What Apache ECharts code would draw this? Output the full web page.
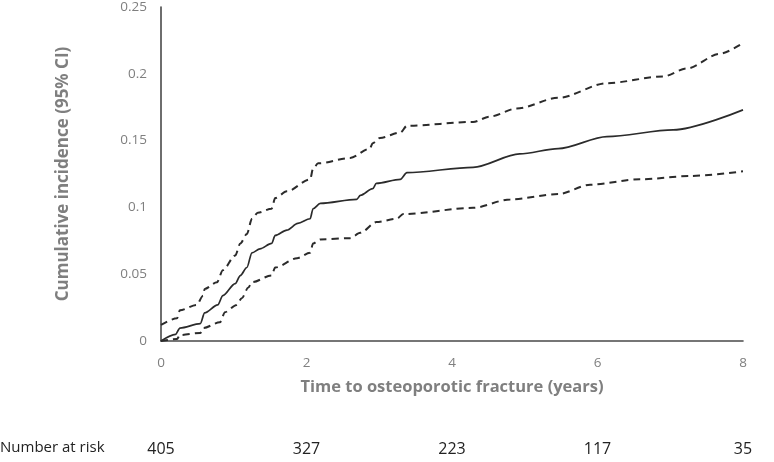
<!DOCTYPE html>
<html>
<head>
<meta charset="utf-8">
<script src="https://cdn.jsdelivr.net/npm/echarts@6/dist/echarts.min.js"></script>
<style>
  html, body { margin: 0; padding: 0; background: #fff; }
  #chart { width: 774px; height: 462px; }
</style>
</head>
<body>
<div id="chart"></div>
<script>
// cumulative incidence (solid)
const ciX = [0, 0.2, 0.26, 0.54, 0.6, 0.78, 0.85, 1.02, 1.09, 1.18, 1.25, 1.36, 1.52, 1.57, 1.73, 1.88, 2.05, 2.09, 2.19, 2.69, 2.74, 2.91, 2.96, 3.29, 3.38, 4.29, 4.93, 5.46, 6.13, 7.04, 8];
const ciY = [0, 0.005, 0.0097, 0.013, 0.021, 0.027, 0.034, 0.043, 0.049, 0.055, 0.066, 0.069, 0.073, 0.079, 0.083, 0.088, 0.0915, 0.099, 0.103, 0.106, 0.109, 0.114, 0.118, 0.121, 0.126, 0.130, 0.140, 0.144, 0.153, 0.158, 0.173];
// upper 95% CI
const upX = [0, 0.22, 0.26, 0.49, 0.58, 0.6, 0.77, 0.85, 1.02, 1.09, 1.18, 1.25, 1.33, 1.52, 1.57, 1.73, 2.05, 2.09, 2.16, 2.6, 2.87, 2.91, 3.01, 3.29, 3.38, 4.29, 4.52, 4.89, 5.46, 6.13, 6.9, 7.23, 7.68, 8];
const upY = [0.012, 0.017, 0.023, 0.027, 0.034, 0.039, 0.044, 0.053, 0.064, 0.073, 0.080, 0.0915, 0.096, 0.099, 0.107, 0.112, 0.121, 0.129, 0.133, 0.137, 0.144, 0.148, 0.152, 0.156, 0.161, 0.164, 0.168, 0.174, 0.182, 0.193, 0.198, 0.204, 0.215, 0.223];
// lower 95% CI
const loX = [0, 0.22, 0.26, 0.54, 0.58, 0.81, 0.88, 1.04, 1.11, 1.2, 1.25, 1.52, 1.57, 1.87, 2.05, 2.09, 2.19, 2.6, 2.74, 2.96, 3.24, 3.33, 4.29, 4.8, 5.46, 5.9, 6.58, 7.27, 8];
const loY = [0, 0.0015, 0.0045, 0.006, 0.0097, 0.014, 0.0216, 0.027, 0.032, 0.040, 0.044, 0.049, 0.055, 0.062, 0.066, 0.073, 0.076, 0.077, 0.081, 0.089, 0.0915, 0.095, 0.0997, 0.106, 0.110, 0.117, 0.121, 0.1235, 0.127];
// number at risk
const riskYears = [0, 2, 4, 6, 8];
const riskCounts = [405, 327, 223, 117, 35];

const zip = (xs, ys) => xs.map((x, i) => [x, ys[i]]);
const lineColor = "#2b2b2b";
const grayText = "#7f7f7f";
const font = "'Open Sans', 'Noto Sans', sans-serif";

const chart = echarts.init(document.getElementById("chart"));

const mkLine = (data, dashed) => ({
  type: "line",
  data: data,
  showSymbol: false,
  smooth: 0.3,
  smoothMonotone: "x",
  lineStyle: {
    color: lineColor,
    width: dashed ? 2 : 1.7,
    type: dashed ? [7, 5] : "solid",
  },
  silent: true,
});

chart.setOption({
  animation: false,
  grid: { left: 161, right: 31, top: 5, bottom: 121 },
  xAxis: [
    {
      type: "value",
      min: 0,
      max: 8,
      interval: 2,
      name: "Time to osteoporotic fracture (years)",
      nameLocation: "middle",
      nameGap: 38,
      nameTextStyle: { color: grayText, fontSize: 16.5, fontWeight: "bold", fontFamily: font },
      axisLine: { lineStyle: { color: "#4a4a4a", width: 1.6 } },
      axisTick: { show: false },
      splitLine: { show: false },
      axisLabel: { color: grayText, fontSize: 13.5, margin: 15, fontFamily: font },
    },
    {
      type: "value",
      min: 0,
      max: 8,
      interval: 2,
      position: "bottom",
      offset: 100,
      axisLine: { show: false },
      axisTick: { show: false },
      splitLine: { show: false },
      axisLabel: {
        color: "#222",
        fontSize: 16,
        margin: 0,
        fontFamily: font,
        formatter: (v) => {
          const i = riskYears.indexOf(v);
          return i >= 0 ? String(riskCounts[i]) : "";
        },
      },
    },
  ],
  yAxis: {
    type: "value",
    min: 0,
    max: 0.25,
    interval: 0.05,
    name: "Cumulative incidence (95% CI)",
    nameLocation: "middle",
    nameGap: 89,
    nameTextStyle: { color: grayText, fontSize: 17, fontWeight: "bold", fontFamily: font },
    axisLine: { show: true, lineStyle: { color: "#4a4a4a", width: 1.6 } },
    axisTick: { show: false },
    splitLine: { show: false },
    axisLabel: { color: grayText, fontSize: 13.5, margin: 14, fontFamily: font },
  },
  graphic: [
    {
      type: "text",
      left: 0,
      top: 440,
      style: { text: "Number at risk", fill: "#222", fontSize: 15, fontFamily: font },
    },
  ],
  series: [mkLine(zip(upX, upY), true), mkLine(zip(ciX, ciY), false), mkLine(zip(loX, loY), true)],
});
</script>
</body>
</html>
